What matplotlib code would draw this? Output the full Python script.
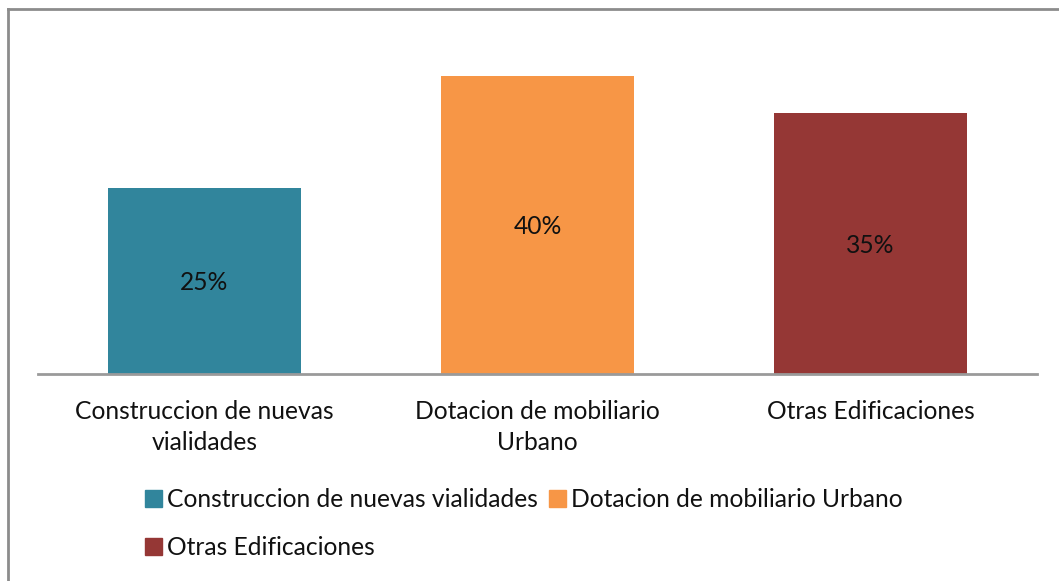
import matplotlib.pyplot as plt
from matplotlib.lines import Line2D
from matplotlib.patches import Patch

categories = ['Construccion de nuevas\nvialidades', 'Dotacion de mobiliario\nUrbano', 'Otras Edificaciones']
legend_names = ['Construccion de nuevas vialidades', 'Dotacion de mobiliario Urbano', 'Otras Edificaciones']
shares = [0.25, 0.40, 0.35]
colors = ['#31859C', '#F79646', '#953735']

plt.rcParams['font.family'] = ['Lato', 'DejaVu Sans']

W, H = 1059, 581
fig = plt.figure(figsize=(W / 100, H / 100), dpi=100)

# axes placed in pixel terms: baseline at y=374, spans x 38..1037
ymax = 0.45
px_per_unit = 298 / 0.40
top_px = 374 - ymax * px_per_unit
ax = fig.add_axes([38 / W, 1 - 374 / H, 999 / W, (374 - top_px) / H])

fs = 17.7
x = range(len(categories))
bars = ax.bar(x, shares, width=0.577, color=colors)
for b, v in zip(bars, shares):
    ax.text(b.get_x() + b.get_width() / 2, v / 2, f'{v * 100:.0f}%',
            ha='center', va='center_baseline', fontsize=fs, color='#111111')

ax.set_xlim(-0.5, 2.5)
ax.set_ylim(0, ymax)
ax.set_xticks(list(x))
ax.set_xticklabels(categories, fontsize=fs, color='#111111', linespacing=1.42)
ax.tick_params(axis='x', length=0, pad=19)
ax.set_yticks([])
for s in ['top', 'right', 'left']:
    ax.spines[s].set_visible(False)
ax.spines['bottom'].set_color('#9a9a9a')
ax.spines['bottom'].set_linewidth(2)

# legend: row-major order via column-first fill
handles = [Patch(color=c, label=n) for c, n in zip(colors, legend_names)]
order = [0, 2, 1]
fig.legend([handles[i] for i in order], [legend_names[i] for i in order],
           ncol=2, loc='center', bbox_to_anchor=(524 / W, 1 - 523.5 / H),
           frameon=False, fontsize=fs, handlelength=0.68, handleheight=0.68,
           handletextpad=0.22, columnspacing=0.45, labelspacing=1.0,
           labelcolor='#111111')

# outer frame (left and top edges)
fig.add_artist(Line2D([8 / W, 8 / W], [0, 1 - 9 / H], color='#8c8c8c', lw=2))
fig.add_artist(Line2D([8 / W, 1], [1 - 9 / H, 1 - 9 / H], color='#8c8c8c', lw=2))

fig.savefig('out.png', dpi=100)
